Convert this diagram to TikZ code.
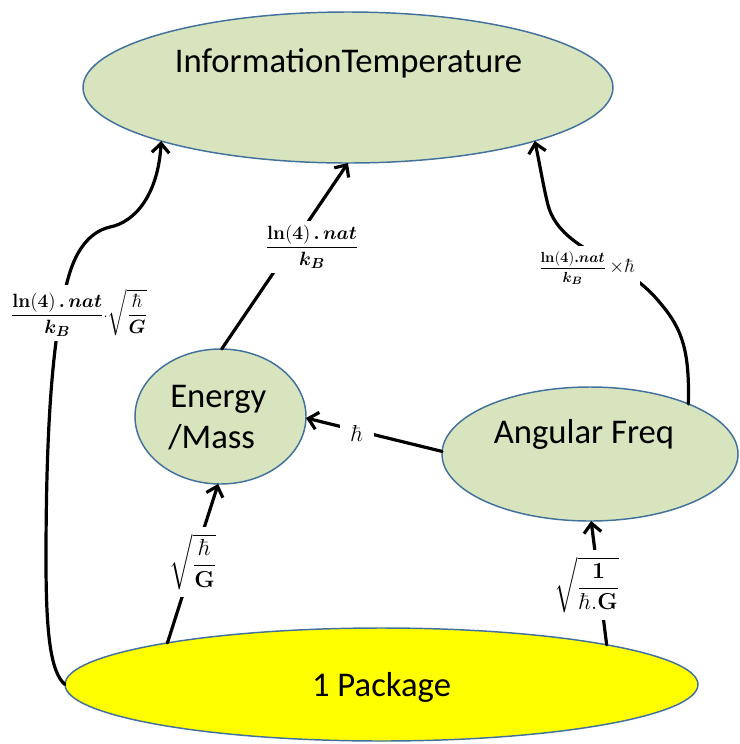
\documentclass[tikz,border=0pt]{standalone}
\usepackage{amsmath,amsbsy}
\usepackage[no-math]{fontspec}
\setmainfont{Carlito}
\usetikzlibrary{shapes.geometric,arrows.meta}
\definecolor{nodegreen}{HTML}{D7E4BD}
\definecolor{nodeblue}{HTML}{41719C}
\definecolor{pkgyellow}{HTML}{FFFF00}
\begin{document}
\begin{tikzpicture}[x=0.75pt,y=-0.75pt,
  ell/.style={ellipse, draw=nodeblue, line width=1.1pt, fill=nodegreen, inner sep=0pt, outer sep=0pt},
  bigtxt/.style={font=\fontsize{26}{31}\selectfont, inner sep=0pt},
  conn/.style={line width=2.4pt, line cap=round, -{Straight Barb[length=7pt,width=13pt]}},
  lab/.style={fill=white, inner sep=3pt, font=\fontsize{15}{18}\selectfont}]
\useasboundingbox (0,0) rectangle (740,744);

% ellipses
\node[ell, minimum width=397.5pt, minimum height=113.25pt] (info) at (348,87.5) {};
\node[ell, minimum width=128.25pt, minimum height=101.25pt] (energy) at (220.5,416.5) {};
\node[ell, minimum width=222pt, minimum height=100.5pt] (ang) at (590,454) {};
\node[ell, fill=pkgyellow, minimum width=474.75pt, minimum height=84.75pt] (pkg) at (381.5,684.5) {};

% texts
\node[bigtxt, anchor=base] (infotxt) at (348.5,72) {InformationTemperature};
\node[bigtxt, anchor=base west] (entxt) at (170,407) {Energy};
\node[bigtxt, anchor=base west] (masstxt) at (168,448) {/Mass};
\node[bigtxt, anchor=base] (angtxt) at (584,443) {Angular Freq};
\node[bigtxt, anchor=base] (pkgtxt) at (381.5,696) {1 Package};

% connectors
\draw[conn] (pkg.180) .. controls (50,672) and (46,630) .. (46,560)
  .. controls (46,430) and (52,330) .. (70,272)
  .. controls (76,253) and (88,232) .. (110,227)
  .. controls (135,222) and (158,195) .. (info.196);
\draw[conn] (pkg.169.5) -- (energy.268);
\draw[conn] (energy.89) -- (info.270);
\draw[conn] (ang.179) -- (energy.359);
\draw[conn] (pkg.10.5) -- (ang.271);
\draw[conn] (ang.27) .. controls (690,345) and (680,325) .. (655,297)
  .. controls (620,258) and (560,250) .. (548,205)
  .. controls (543,185) and (540,165) .. (info.344);

% labels
\node[lab, inner sep=3pt] (l1) at (79,313)
  {$\dfrac{\mathbf{ln(4)}\,\boldsymbol{.}\,\boldsymbol{nat}}{\boldsymbol{k_B}}{\scriptstyle\cdot}\sqrt{\dfrac{\hbar}{\boldsymbol{G}}}$};
\node[lab] (l2) at (312,247)
  {$\dfrac{\mathbf{ln(4)}\,\boldsymbol{.}\,\boldsymbol{nat}}{\boldsymbol{k_B}}$};
\node[lab, inner sep=4pt, font=\fontsize{11}{13}\selectfont] (l3) at (587,268)
  {$\dfrac{\mathbf{ln(4)}\boldsymbol{.nat}}{\boldsymbol{k_B}}$\fontsize{14}{16}\selectfont$\,\times\hbar$};
\node[lab, inner xsep=8pt, inner ysep=2pt, font=\fontsize{17}{19}\selectfont] (l4) at (357,433) {$\hbar$};
\node[lab, inner sep=5pt, font=\fontsize{17}{20}\selectfont] (l5) at (193,562) {$\sqrt{\dfrac{\hbar}{\mathbf{G}}}$};
\node[lab, inner sep=5pt, font=\fontsize{16}{19}\selectfont] (l6) at (587,585) {$\sqrt{\dfrac{\mathbf{1}}{\hbar.\mathbf{G}}}$};
\end{tikzpicture}
\end{document}
